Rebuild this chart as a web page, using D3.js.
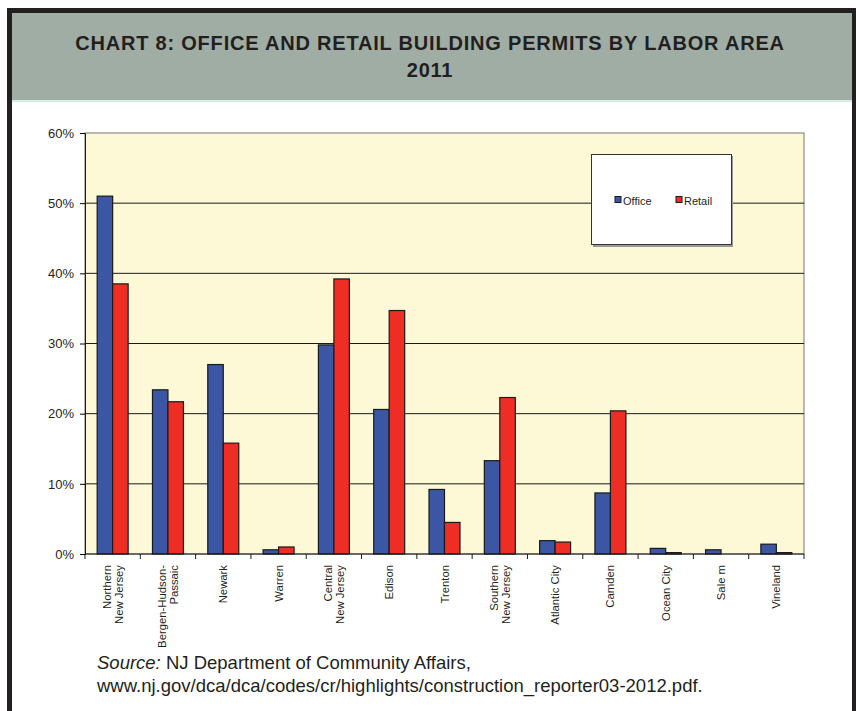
<!DOCTYPE html>
<html>
<head>
<meta charset="utf-8">
<script src="https://cdn.jsdelivr.net/npm/d3@7"></script>
<style>
  body { margin: 0; background: #fff; }
  svg { display: block; font-family: "Liberation Sans", Arial, sans-serif; }
</style>
</head>
<body>
<div id="chart"></div>
<script>
// labor areas, two-line labels split by "|"
var areas = ["Northern|New Jersey", "Bergen-Hudson-|Passaic", "Newark", "Warren", "Central|New Jersey",
  "Edison", "Trenton", "Southern|New Jersey", "Atlantic City", "Camden", "Ocean City", "Sale m", "Vineland"];
var office = [51.0, 23.4, 27.0, 0.6, 29.8, 20.6, 9.2, 13.3, 1.9, 8.7, 0.8, 0.6, 1.4];
var retail = [38.5, 21.7, 15.8, 1.0, 39.2, 34.7, 4.5, 22.3, 1.7, 20.4, 0.2, 0.0, 0.2];
var series = ["Office", "Retail"];
var colors = ["#3a56a5", "#ee2e24"];
var yTicks = [0, 10, 20, 30, 40, 50, 60];

var W = 856, H = 711;
var svg = d3.select("#chart").append("svg").attr("width", W).attr("height", H);

// frame + header
svg.append("rect").attr("x", 0).attr("y", 0).attr("width", W).attr("height", H).attr("fill", "#fff");
svg.append("rect").attr("x", 12).attr("y", 13).attr("width", 840).attr("height", 88).attr("fill", "#9fada5");
svg.append("rect").attr("x", 12).attr("y", 100).attr("width", 840).attr("height", 2).attr("fill", "#d5ebe4");
svg.append("rect").attr("x", 7).attr("y", 8).attr("width", 5).attr("height", H).attr("fill", "#231f20");
svg.append("rect").attr("x", 7).attr("y", 8).attr("width", W).attr("height", 5).attr("fill", "#231f20");
svg.append("rect").attr("x", 852).attr("y", 8).attr("width", 4).attr("height", H).attr("fill", "#231f20");

svg.append("text").attr("x", 430).attr("y", 50).attr("text-anchor", "middle")
  .attr("font-size", 20).attr("font-weight", "bold").attr("fill", "#231f20")
  .attr("letter-spacing", 0.8)
  .text("CHART 8: OFFICE AND RETAIL BUILDING PERMITS BY LABOR AREA");
svg.append("text").attr("x", 430).attr("y", 77).attr("text-anchor", "middle")
  .attr("font-size", 20).attr("font-weight", "bold").attr("fill", "#231f20")
  .attr("letter-spacing", 0.8)
  .text("2011");

var margin = {left: 85, right: 804, top: 133, bottom: 554};

var x0 = d3.scaleBand().domain(d3.range(areas.length))
  .range([margin.left, margin.right]).paddingInner(0.44).paddingOuter(0.22);
var x1 = d3.scaleBand().domain([0, 1]).range([0, x0.bandwidth()]);
var y = d3.scaleLinear().domain([0, 60]).range([margin.bottom, margin.top]);

var g = svg.append("g");
g.append("rect").attr("x", margin.left).attr("y", margin.top)
  .attr("width", margin.right - margin.left).attr("height", margin.bottom - margin.top)
  .attr("fill", "#fdf9d6").attr("stroke", "#8a8a8a").attr("stroke-width", 1.2);

// gridlines
g.selectAll(".grid").data(yTicks.filter(function(d) { return d > 0 && d < 60; }))
  .enter().append("line")
  .attr("x1", margin.left).attr("x2", margin.right)
  .attr("y1", function(d) { return y(d); }).attr("y2", function(d) { return y(d); })
  .attr("stroke", "#1a1a1a").attr("stroke-width", 1);

// bars (zero values are not drawn)
var data = areas.map(function(a, i) {
  return [{j: 0, v: office[i]}, {j: 1, v: retail[i]}].filter(function(d) { return d.v > 0; });
});
var grp = g.selectAll(".grp").data(data).enter().append("g")
  .attr("transform", function(d, i) { return "translate(" + x0(i) + ",0)"; });
grp.selectAll("rect").data(function(d) { return d; }).enter()
  .append("rect")
  .attr("x", function(d) { return x1(d.j); })
  .attr("y", function(d) { return y(d.v); })
  .attr("width", x1.bandwidth())
  .attr("height", function(d) { return y(0) - y(d.v); })
  .attr("fill", function(d) { return colors[d.j]; })
  .attr("stroke", "#1a1a1a").attr("stroke-width", 1.2);

// y axis
var yAxis = d3.axisLeft(y).tickValues(yTicks).tickSize(5).tickPadding(6)
  .tickFormat(function(d) { return d + "%"; });
var ya = g.append("g").attr("transform", "translate(" + margin.left + ",0)").call(yAxis);
ya.select(".domain").attr("stroke", "#1a1a1a");
ya.selectAll("text").attr("font-size", 13).attr("fill", "#231f20")
  .attr("font-family", "Liberation Sans, Arial, sans-serif");

// x axis
var xt = d3.scaleLinear().domain([0, areas.length]).range([margin.left, margin.right]);
var xa = g.append("g").attr("transform", "translate(0," + margin.bottom + ")");
xa.append("line").attr("x1", margin.left).attr("x2", margin.right).attr("stroke", "#1a1a1a").attr("stroke-width", 1.2);
xa.selectAll(".tk").data(d3.range(areas.length + 1)).enter().append("line")
  .attr("x1", function(d) { return xt(d); }).attr("x2", function(d) { return xt(d); })
  .attr("y1", 0).attr("y2", 5).attr("stroke", "#1a1a1a");

xa.selectAll(".lbl").data(areas).enter().append("text")
  .attr("transform", function(d, i) {
    return "translate(" + (x0(i) + x0.bandwidth() / 2) + ",11) rotate(-90)";
  })
  .attr("text-anchor", "end")
  .attr("font-size", 11.3).attr("fill", "#231f20")
  .each(function(d) {
    var lines = d.split("|");
    var t = d3.select(this);
    var off = -(lines.length - 1) * 0.5 * 12;
    lines.forEach(function(l, k) {
      t.append("tspan").attr("x", 0).attr("y", off + k * 12 + 4).text(l);
    });
  });

// legend
var lg = svg.append("g");
lg.append("rect").attr("x", 593).attr("y", 156).attr("width", 140).attr("height", 91).attr("fill", "#9a9a9a");
lg.append("rect").attr("x", 591.5).attr("y", 154.5).attr("width", 140).attr("height", 90)
  .attr("fill", "#fff").attr("stroke", "#333").attr("stroke-width", 1);
var lx = [615, 676];
series.forEach(function(s, i) {
  lg.append("rect").attr("x", lx[i]).attr("y", 196.5).attr("width", 6).attr("height", 6)
    .attr("fill", colors[i]).attr("stroke", "#1a1a1a").attr("stroke-width", 1);
  lg.append("text").attr("x", lx[i] + 8).attr("y", 204.5).attr("font-size", 11)
    .attr("fill", "#231f20").text(s);
});

// source
var src = svg.append("text").attr("x", 97).attr("y", 669).attr("font-size", 18.5).attr("fill", "#231f20");
src.append("tspan").attr("font-style", "italic").text("Source:");
src.append("tspan").text(" NJ Department of Community Affairs,");
svg.append("text").attr("x", 97).attr("y", 692).attr("font-size", 18.5).attr("fill", "#231f20")
  .text("www.nj.gov/dca/dca/codes/cr/highlights/construction_reporter03-2012.pdf.");
</script>
</body>
</html>
